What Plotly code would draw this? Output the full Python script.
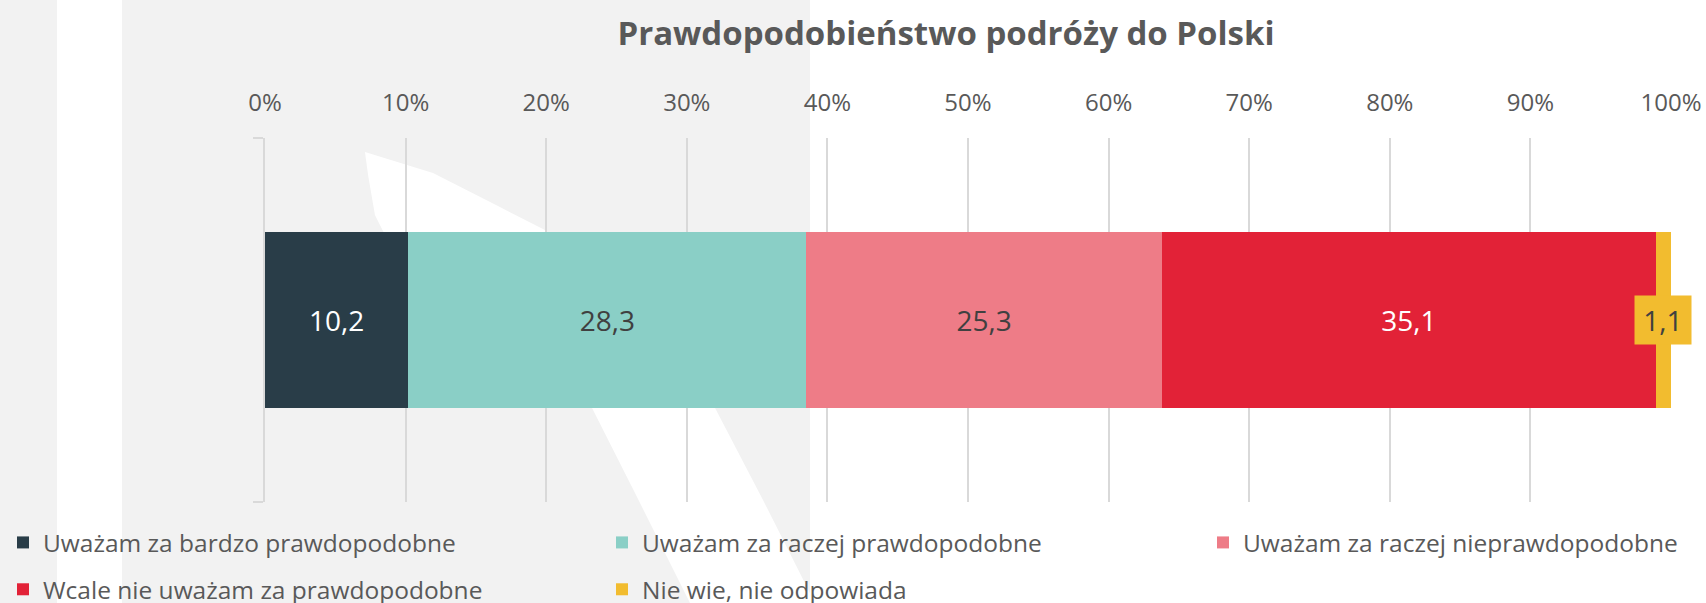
import plotly.graph_objects as go

# dane z wykresu (procent odpowiedzi)
categories = ["Uważam za bardzo prawdopodobne", "Uważam za raczej prawdopodobne",
              "Uważam za raczej nieprawdopodobne", "Wcale nie uważam za prawdopodobne",
              "Nie wie, nie odpowiada"]
values = [10.2, 28.3, 25.3, 35.1, 1.1]
colors = ["#293D48", "#8ACFC6", "#EE7C87", "#E22237", "#F2BC2F"]
label_colors = ["#FFFFFF", "#404040", "#404040", "#FFFFFF", "#404040"]
legend_ids = ["legend", "legend2", "legend3", "legend", "legend2"]
tick_values = list(range(0, 101, 10))
tick_labels = [f"{v}%" for v in tick_values]
title = "Prawdopodobieństwo podróży do Polski"

W, H = 1706, 603
L, R, T, B = 265, 35, 138, 101
FONT = "Open Sans"


def px(x):
    return (x - L) / (W - L - R)


def py(y):
    return 1 - (y - T) / (H - T - B)


fig = go.Figure()
for i, (name, val) in enumerate(zip(categories, values)):
    small = i == len(values) - 1
    fig.add_trace(go.Bar(
        x=[val], y=[0], name=name, orientation="h",
        marker=dict(color=colors[i], line=dict(width=0)),
        width=0.484,
        text=None if small else [val],
        texttemplate=None if small else "%{x:.1f}",
        textposition="inside", insidetextanchor="middle",
        textangle=0,
        textfont=dict(family=FONT, size=28, color=label_colors[i]),
        legend=legend_ids[i], legendgroup=name,
        hoverinfo="skip",
    ))

# etykieta dla najmniejszej wartości z tłem
last_center = sum(values[:-1]) + values[-1] / 2
fig.add_annotation(x=last_center, y=0, xref="x", yref="y",
                   text=f"{values[-1]:.1f}".replace(".", ","), showarrow=False,
                   bgcolor=colors[-1], borderpad=4, width=48, height=40,
                   font=dict(family=FONT, size=28, color="#404040"))

# tło: szary obszar, biały pas i łuk (znak wodny)
shapes = [
    dict(type="rect", xref="paper", yref="paper", x0=px(0), x1=px(810), y0=py(H), y1=py(0),
         fillcolor="#F2F2F2", line_width=0, layer="below"),
    dict(type="rect", xref="paper", yref="paper", x0=px(57), x1=px(122), y0=py(H), y1=py(0),
         fillcolor="#FFFFFF", line_width=0, layer="below"),
]
outer = [(365, 152), (433, 173), (500, 207), (545, 230), (640, 318), (715, 408), (763, 500), (815, 603)]
inner = [(690, 603), (637, 497), (592, 408), (480, 320), (390, 245), (375, 215), (368, 175)]
pts = outer + inner
path = "M " + " L ".join(f"{px(x):.4f},{py(y):.4f}" for x, y in pts) + " Z"
shapes.append(dict(type="path", xref="paper", yref="paper", path=path,
                   fillcolor="#FFFFFF", line_width=0, layer="below"))

legend_style = dict(orientation="v", xref="container", yref="container", yanchor="top",
                    xanchor="left", traceorder="grouped", tracegroupgap=12,
                    bgcolor="rgba(0,0,0,0)", itemclick=False,
                    font=dict(family=FONT, size=24.5, color="#595959"))
legend_top = 1 - 520 / H

fig.update_layout(
    width=W, height=H,
    margin=dict(l=L, r=R, t=T, b=B, pad=0, autoexpand=False),
    barmode="stack",
    paper_bgcolor="#FFFFFF", plot_bgcolor="rgba(0,0,0,0)",
    separators=", ",
    font=dict(family=FONT, color="#595959"),
    title=dict(text=f"<b>{title}</b>", x=946 / W, xref="container", xanchor="center",
               y=1 - 33 / H, yref="container", yanchor="middle",
               font=dict(family=FONT, size=33, color="#595959")),
    xaxis=dict(side="top", range=[0, 100], tickmode="array", tickvals=tick_values,
               ticktext=tick_labels,
               showgrid=True, gridcolor="#D9D9D9", gridwidth=1.5, zeroline=False,
               showline=False, ticks="", ticklabelstandoff=21,
               tickfont=dict(family=FONT, size=24, color="#595959")),
    yaxis=dict(range=[-0.5, 0.5], showgrid=False, zeroline=False, showline=True,
               linecolor="#D9D9D9", linewidth=1.5, ticks="outside", ticklen=10,
               tickcolor="#D9D9D9", tickwidth=1.5, tickvals=[-0.5, 0.5],
               showticklabels=False, fixedrange=True),
    shapes=shapes,
    showlegend=True,
    legend=dict(x=3 / W, y=legend_top, **legend_style),
    legend2=dict(x=602 / W, y=legend_top, **legend_style),
    legend3=dict(x=1203 / W, y=legend_top, **legend_style),
)

fig.write_html("out.html", config={"displayModeBar": False},
               post_script="document.body.style.margin='0';")
